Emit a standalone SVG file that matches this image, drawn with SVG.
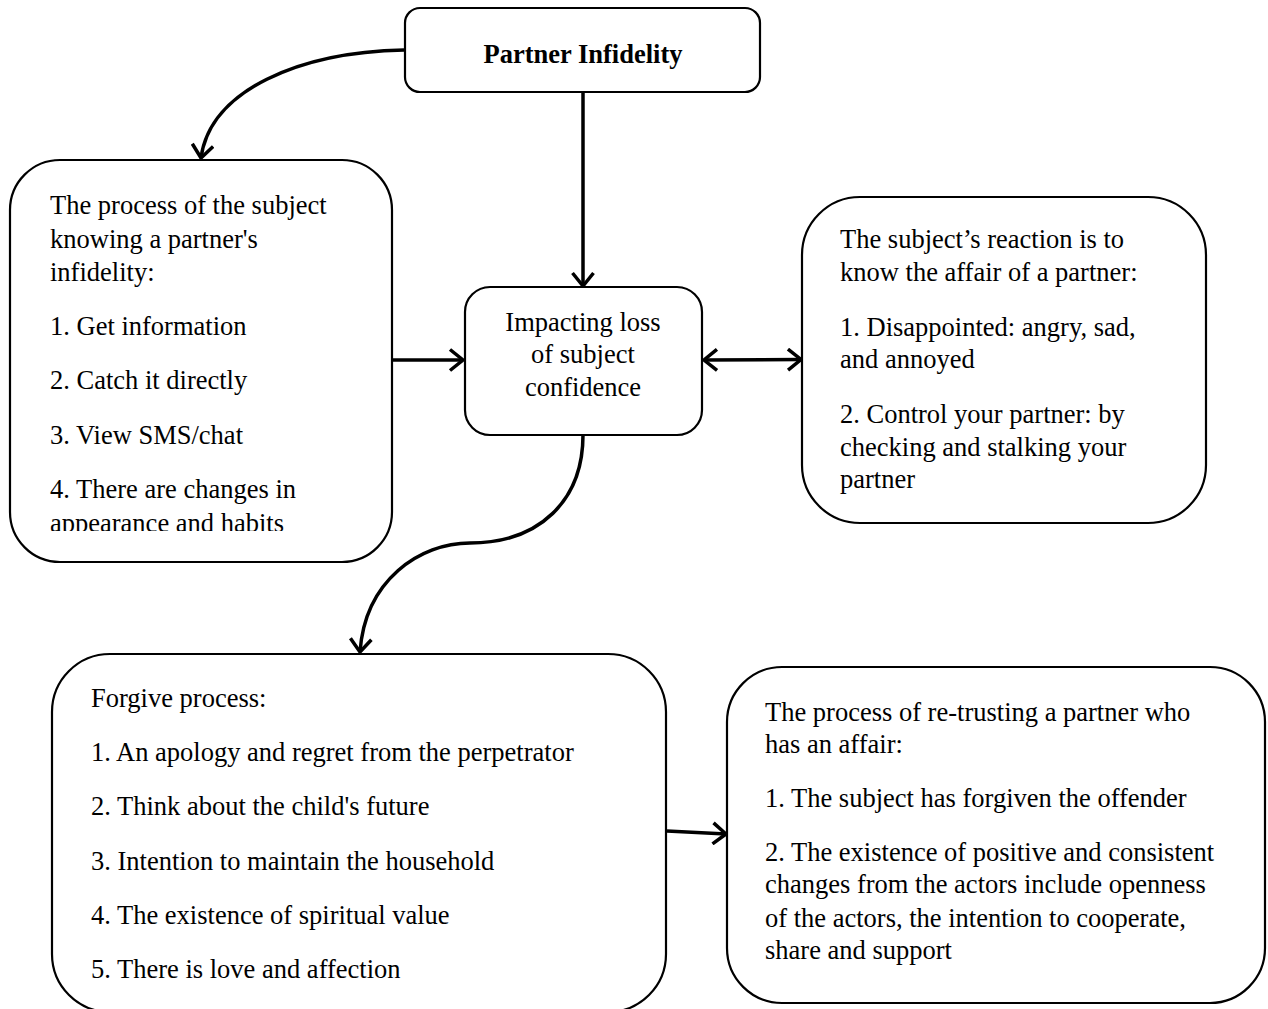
<svg xmlns="http://www.w3.org/2000/svg" width="1268" height="1009" viewBox="0 0 1268 1009">
<style>
.box{fill:#fff;stroke:#000;stroke-width:2.2}
.t{font-family:"Liberation Serif","Times New Roman",serif;font-size:26.5px;fill:#000}
.b{font-weight:bold}
.c{fill:none;stroke:#000;stroke-width:3.5}
</style>
<defs>
<marker id="ah" viewBox="0 0 24 24" refX="21" refY="12" markerWidth="24" markerHeight="24" markerUnits="userSpaceOnUse" orient="auto-start-reverse">
<path d="M8,1.5 L21,12 L8,22.5" fill="none" stroke="#000" stroke-width="3.5" stroke-linejoin="miter"/>
</marker>
<clipPath id="clipL"><rect x="0" y="150" width="400" height="381"/></clipPath>
</defs>
<rect width="1268" height="1009" fill="#fff"/>
<g id="connectors">
<path class="c" d="M404,50 C300,52 210,90 201,158" marker-end="url(#ah)"/>
<path class="c" d="M583,92 L583,286" marker-end="url(#ah)"/>
<path class="c" d="M392,360 L463,360" marker-end="url(#ah)"/>
<path class="c" d="M704,360 L801,359.5" marker-start="url(#ah)" marker-end="url(#ah)"/>
<path class="c" d="M583,435 C583,500 540,543 470,543 C420,543 365,580 360,652" marker-end="url(#ah)"/>
<path class="c" d="M667,831 L726,834" marker-end="url(#ah)"/>
</g>
<g id="node-partner-infidelity">
<rect class="box" x="405" y="8" width="355" height="84" rx="15"/>
<text class="t b" x="583" y="63" text-anchor="middle">Partner Infidelity</text>
</g>
<g id="node-knowing">
<rect class="box" x="10" y="160" width="382" height="402" rx="50"/>
<g clip-path="url(#clipL)">
<text class="t" x="50" y="214">The process of the subject</text>
<text class="t" x="50" y="248">knowing a partner's</text>
<text class="t" x="50" y="281">infidelity:</text>
<text class="t" x="50" y="335">1. Get information</text>
<text class="t" x="50" y="389">2. Catch it directly</text>
<text class="t" x="50" y="444">3. View SMS/chat</text>
<text class="t" x="50" y="498">4. There are changes in</text>
<text class="t" x="50" y="532">appearance and habits</text>
</g>
</g>
<g id="node-impact">
<rect class="box" x="465" y="287" width="237" height="148" rx="25"/>
<text class="t" x="583" y="331" text-anchor="middle">Impacting loss</text>
<text class="t" x="583" y="363" text-anchor="middle">of subject</text>
<text class="t" x="583" y="396" text-anchor="middle">confidence</text>
</g>
<g id="node-reaction">
<rect class="box" x="802" y="197" width="404" height="326" rx="58"/>
<text class="t" x="840" y="248">The subject’s reaction is to</text>
<text class="t" x="840" y="281">know the affair of a partner:</text>
<text class="t" x="840" y="336">1. Disappointed: angry, sad,</text>
<text class="t" x="840" y="368">and annoyed</text>
<text class="t" x="840" y="423">2. Control your partner: by</text>
<text class="t" x="840" y="456">checking and stalking your</text>
<text class="t" x="840" y="488">partner</text>
</g>
<g id="node-forgive">
<rect class="box" x="52" y="654" width="614" height="358" rx="58"/>
<text class="t" x="91" y="707">Forgive process:</text>
<text class="t" x="91" y="761">1. An apology and regret from the perpetrator</text>
<text class="t" x="91" y="815">2. Think about the child's future</text>
<text class="t" x="91" y="870">3. Intention to maintain the household</text>
<text class="t" x="91" y="924">4. The existence of spiritual value</text>
<text class="t" x="91" y="978">5. There is love and affection</text>
</g>
<g id="node-retrust">
<rect class="box" x="727" y="667" width="538" height="336" rx="55"/>
<text class="t" x="765" y="721">The process of re-trusting a partner who</text>
<text class="t" x="765" y="753">has an affair:</text>
<text class="t" x="765" y="807">1. The subject has forgiven the offender</text>
<text class="t" x="765" y="861">2. The existence of positive and consistent</text>
<text class="t" x="765" y="893">changes from the actors include openness</text>
<text class="t" x="765" y="927">of the actors, the intention to cooperate,</text>
<text class="t" x="765" y="959">share and support</text>
</g>
</svg>
